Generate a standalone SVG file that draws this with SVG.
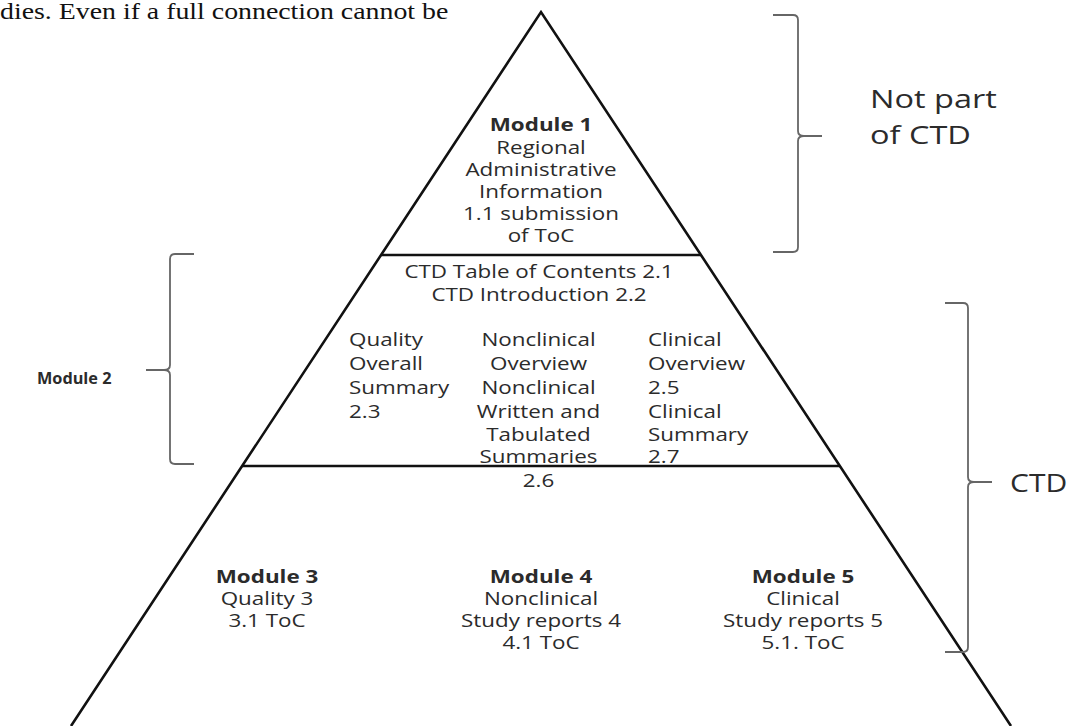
<svg xmlns="http://www.w3.org/2000/svg" width="1072" height="726" viewBox="0 0 1072 726">
<style>
.t{font-family:"Open Sans","Liberation Sans",sans-serif;font-size:17.5px;fill:#2b2b2b}
.b{font-weight:bold}
.c{text-anchor:middle}
.big{font-size:25px}
.edge{fill:none;stroke:#111;stroke-width:2.6;stroke-linecap:butt}
.brace{fill:none;stroke:#666;stroke-width:1.8}
</style>
<rect width="1072" height="726" fill="#fff"/>
<text x="0" y="19" transform="scale(1.16,1)" style="font-family:'Liberation Serif','Times New Roman',serif;font-size:24px;fill:#111">dies. Even if a full connection cannot be</text>
<g id="pyramid">
<path class="edge" d="M71,726 L541,12 L1011,726"/>
<line class="edge" x1="381" y1="255" x2="701" y2="255"/>
<line class="edge" x1="242" y1="466" x2="840" y2="466"/>
</g>
<g id="module1" transform="translate(541,0) scale(1.28,1)">
<text class="t b c" x="0" y="131">Module 1</text>
<text class="t c" x="0" y="154">Regional</text>
<text class="t c" x="0" y="176">Administrative</text>
<text class="t c" x="0" y="198">Information</text>
<text class="t c" x="0" y="220">1.1 submission</text>
<text class="t c" x="0" y="242">of ToC</text>
</g>
<g id="module2">
<g transform="translate(539,0) scale(1.28,1)">
<text class="t c" x="0" y="278">CTD Table of Contents 2.1</text>
<text class="t c" x="0" y="301">CTD Introduction 2.2</text>
</g>
<g id="quality-summary" transform="translate(349,0) scale(1.28,1)">
<text class="t" x="0" y="346">Quality</text>
<text class="t" x="0" y="370">Overall</text>
<text class="t" x="0" y="394">Summary</text>
<text class="t" x="0" y="418">2.3</text>
</g>
<g id="nonclinical-summary" transform="translate(538.5,0) scale(1.28,1)">
<text class="t c" x="0" y="346">Nonclinical</text>
<text class="t c" x="0" y="370">Overview</text>
<text class="t c" x="0" y="394">Nonclinical</text>
<text class="t c" x="0" y="418">Written and</text>
<text class="t c" x="0" y="441">Tabulated</text>
<text class="t c" x="0" y="463">Summaries</text>
<text class="t c" x="0" y="487">2.6</text>
</g>
<g id="clinical-summary" transform="translate(648,0) scale(1.28,1)">
<text class="t" x="0" y="346">Clinical</text>
<text class="t" x="0" y="370">Overview</text>
<text class="t" x="0" y="394">2.5</text>
<text class="t" x="0" y="418">Clinical</text>
<text class="t" x="0" y="441">Summary</text>
<text class="t" x="0" y="463">2.7</text>
</g>
</g>
<g id="module3" transform="translate(267,0) scale(1.28,1)">
<text class="t b c" x="0" y="583">Module 3</text>
<text class="t c" x="0" y="605">Quality 3</text>
<text class="t c" x="0" y="627">3.1 ToC</text>
</g>
<g id="module4" transform="translate(541,0) scale(1.28,1)">
<text class="t b c" x="0" y="583">Module 4</text>
<text class="t c" x="0" y="605">Nonclinical</text>
<text class="t c" x="0" y="627">Study reports 4</text>
<text class="t c" x="0" y="649">4.1 ToC</text>
</g>
<g id="module5" transform="translate(803,0) scale(1.28,1)">
<text class="t b c" x="0" y="583">Module 5</text>
<text class="t c" x="0" y="605">Clinical</text>
<text class="t c" x="0" y="627">Study reports 5</text>
<text class="t c" x="0" y="649">5.1. ToC</text>
</g>
<g id="connectors">
<path class="brace" d="M773,15 L793,15 Q798,15 798,20 L798,131 Q798,136 804,136 L822,136 M804,136 Q798,136 798,141 L798,247 Q798,252 793,252 L773,252"/>
<path class="brace" d="M194,254 L175,254 Q170,254 170,259 L170,365 Q170,370 164,370 L146,370 M164,370 Q170,370 170,375 L170,459 Q170,464 175,464 L194,464"/>
<path class="brace" d="M945,303 L963,303 Q968,303 968,308 L968,477 Q968,482 974,482 L992,482 M974,482 Q968,482 968,487 L968,647 Q968,652 963,652 L945,652"/>
</g>
<g id="label-not-part" transform="translate(870,0) scale(1.3,1)">
<text class="t big" x="0" y="108">Not part</text>
<text class="t big" x="0" y="144">of CTD</text>
</g>
<g id="label-ctd" transform="translate(1010,0) scale(1.2,1)">
<text class="t big" x="0" y="492">CTD</text>
</g>
<g id="label-module2" transform="translate(37,0) scale(1.05,1)">
<text class="t b" x="0" y="384" style="font-size:15.5px">Module 2</text>
</g>
</svg>
